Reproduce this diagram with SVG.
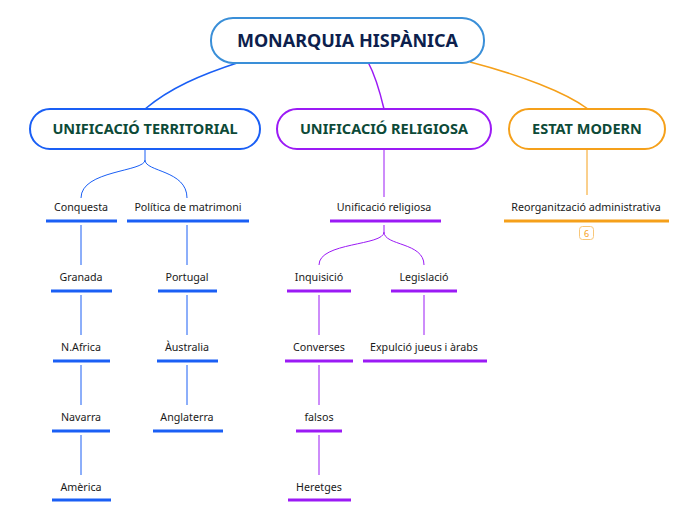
<svg xmlns="http://www.w3.org/2000/svg" width="696" height="520" viewBox="0 0 696 520">
<style>
.t{font-family:"Noto Sans","Open Sans","DejaVu Sans",sans-serif;font-size:10.7px;fill:#1a1a1a;text-anchor:middle}
.m{font-family:"Noto Sans","Open Sans","DejaVu Sans",sans-serif;font-size:14.5px;font-weight:bold;fill:#0d4a38;text-anchor:middle}
.b{stroke:#1a5ff5;fill:none}
.p{stroke:#9b1af5;fill:none}
.o{stroke:#f5a01a;fill:none}
.u{stroke-width:3}
.c{stroke-width:1}
.r{stroke-width:1.5}
</style>
<rect width="696" height="520" fill="#ffffff"/>
<g id="connectors">
<path class="b r" d="M240,62 C200,75 170,88 145,109"/>
<path class="p r" d="M368,62 C375,75 380,92 384,109"/>
<path class="o r" d="M470,62 C520,75 565,92 588,109"/>
<path class="b c" d="M145,150 L145,160 C145,172 81,170 81,198 M145,160 C145,172 187,170 187,198"/>
<path class="b c" d="M81,225 V265 M81,295 V335 M81,365 V405 M81,435 V475"/>
<path class="b c" d="M187,225 V265 M187,295 V335 M187,365 V405"/>
<path class="p c" d="M384,150 V197"/>
<path class="p c" d="M384,225 L384,232 C384,246 319,242 319,265 M384,232 C384,246 424,242 424,265"/>
<path class="p c" d="M319,295 V335 M319,365 V405 M319,435 V475"/>
<path class="p c" d="M424,295 V335"/>
<path class="o c" d="M587,150 V195"/>
</g>
<g id="root">
<rect x="211" y="18" width="273" height="45" rx="22" fill="#ffffff" stroke="#3a8fd8" stroke-width="2"/>
<text x="347.5" y="47" font-family="Noto Sans,Open Sans,DejaVu Sans,sans-serif" font-size="18" font-weight="bold" fill="#0d1f4d" text-anchor="middle">MONARQUIA HISPÀNICA</text>
</g>
<g id="territorial">
<rect x="30" y="109" width="230" height="40" rx="20" fill="#ffffff" stroke="#1a5ff5" stroke-width="2"/>
<text class="m" x="145" y="134">UNIFICACIÓ TERRITORIAL</text>
</g>
<g id="religiosa">
<rect x="277" y="109" width="214" height="40" rx="20" fill="#ffffff" stroke="#9b1af5" stroke-width="2"/>
<text class="m" x="384" y="134">UNIFICACIÓ RELIGIOSA</text>
</g>
<g id="estat">
<rect x="509" y="109" width="156" height="40" rx="20" fill="#ffffff" stroke="#f5a01a" stroke-width="2"/>
<text class="m" x="587" y="134">ESTAT MODERN</text>
</g>
<g id="conquesta"><text class="t" x="81" y="211">Conquesta</text><path class="b u" d="M46,221 H117"/></g>
<g id="politica"><text class="t" x="188" y="211">Política de matrimoni</text><path class="b u" d="M127,221 H249"/></g>
<g id="granada"><text class="t" x="81" y="281">Granada</text><path class="b u" d="M51,291 H112"/></g>
<g id="nafrica"><text class="t" x="81" y="351">N.Africa</text><path class="b u" d="M53,361 H110"/></g>
<g id="navarra"><text class="t" x="81" y="421">Navarra</text><path class="b u" d="M52,431 H110"/></g>
<g id="america"><text class="t" x="81" y="491">Amèrica</text><path class="b u" d="M52,500 H111"/></g>
<g id="portugal"><text class="t" x="187" y="281">Portugal</text><path class="b u" d="M158,291 H217"/></g>
<g id="australia"><text class="t" x="187" y="351">Àustralia</text><path class="b u" d="M157,361 H218"/></g>
<g id="anglaterra"><text class="t" x="187" y="421">Anglaterra</text><path class="b u" d="M153,431 H223"/></g>
<g id="unif-rel"><text class="t" x="384" y="211">Unificació religiosa</text><path class="p u" d="M330,221 H441"/></g>
<g id="inquisicio"><text class="t" x="319" y="281">Inquisició</text><path class="p u" d="M287,291 H351"/></g>
<g id="legislacio"><text class="t" x="424" y="281">Legislació</text><path class="p u" d="M391,291 H457"/></g>
<g id="converses"><text class="t" x="319" y="351">Converses</text><path class="p u" d="M285,361 H353"/></g>
<g id="expulcio"><text class="t" x="424" y="351">Expulció jueus i àrabs</text><path class="p u" d="M363,361 H487"/></g>
<g id="falsos"><text class="t" x="319" y="421">falsos</text><path class="p u" d="M296,431 H342"/></g>
<g id="heretges"><text class="t" x="319" y="491">Heretges</text><path class="p u" d="M288,500 H351"/></g>
<g id="reorg"><text class="t" x="586" y="211">Reorganització administrativa</text><path class="o u" d="M504,221 H669"/>
<rect x="579.5" y="226.5" width="14" height="13" rx="3" fill="#ffffff" stroke="#f8c77a" stroke-width="1"/>
<text x="586.5" y="237" font-family="Noto Sans,Open Sans,DejaVu Sans,sans-serif" font-size="9" fill="#f5a01a" text-anchor="middle">6</text>
</g>
</svg>
